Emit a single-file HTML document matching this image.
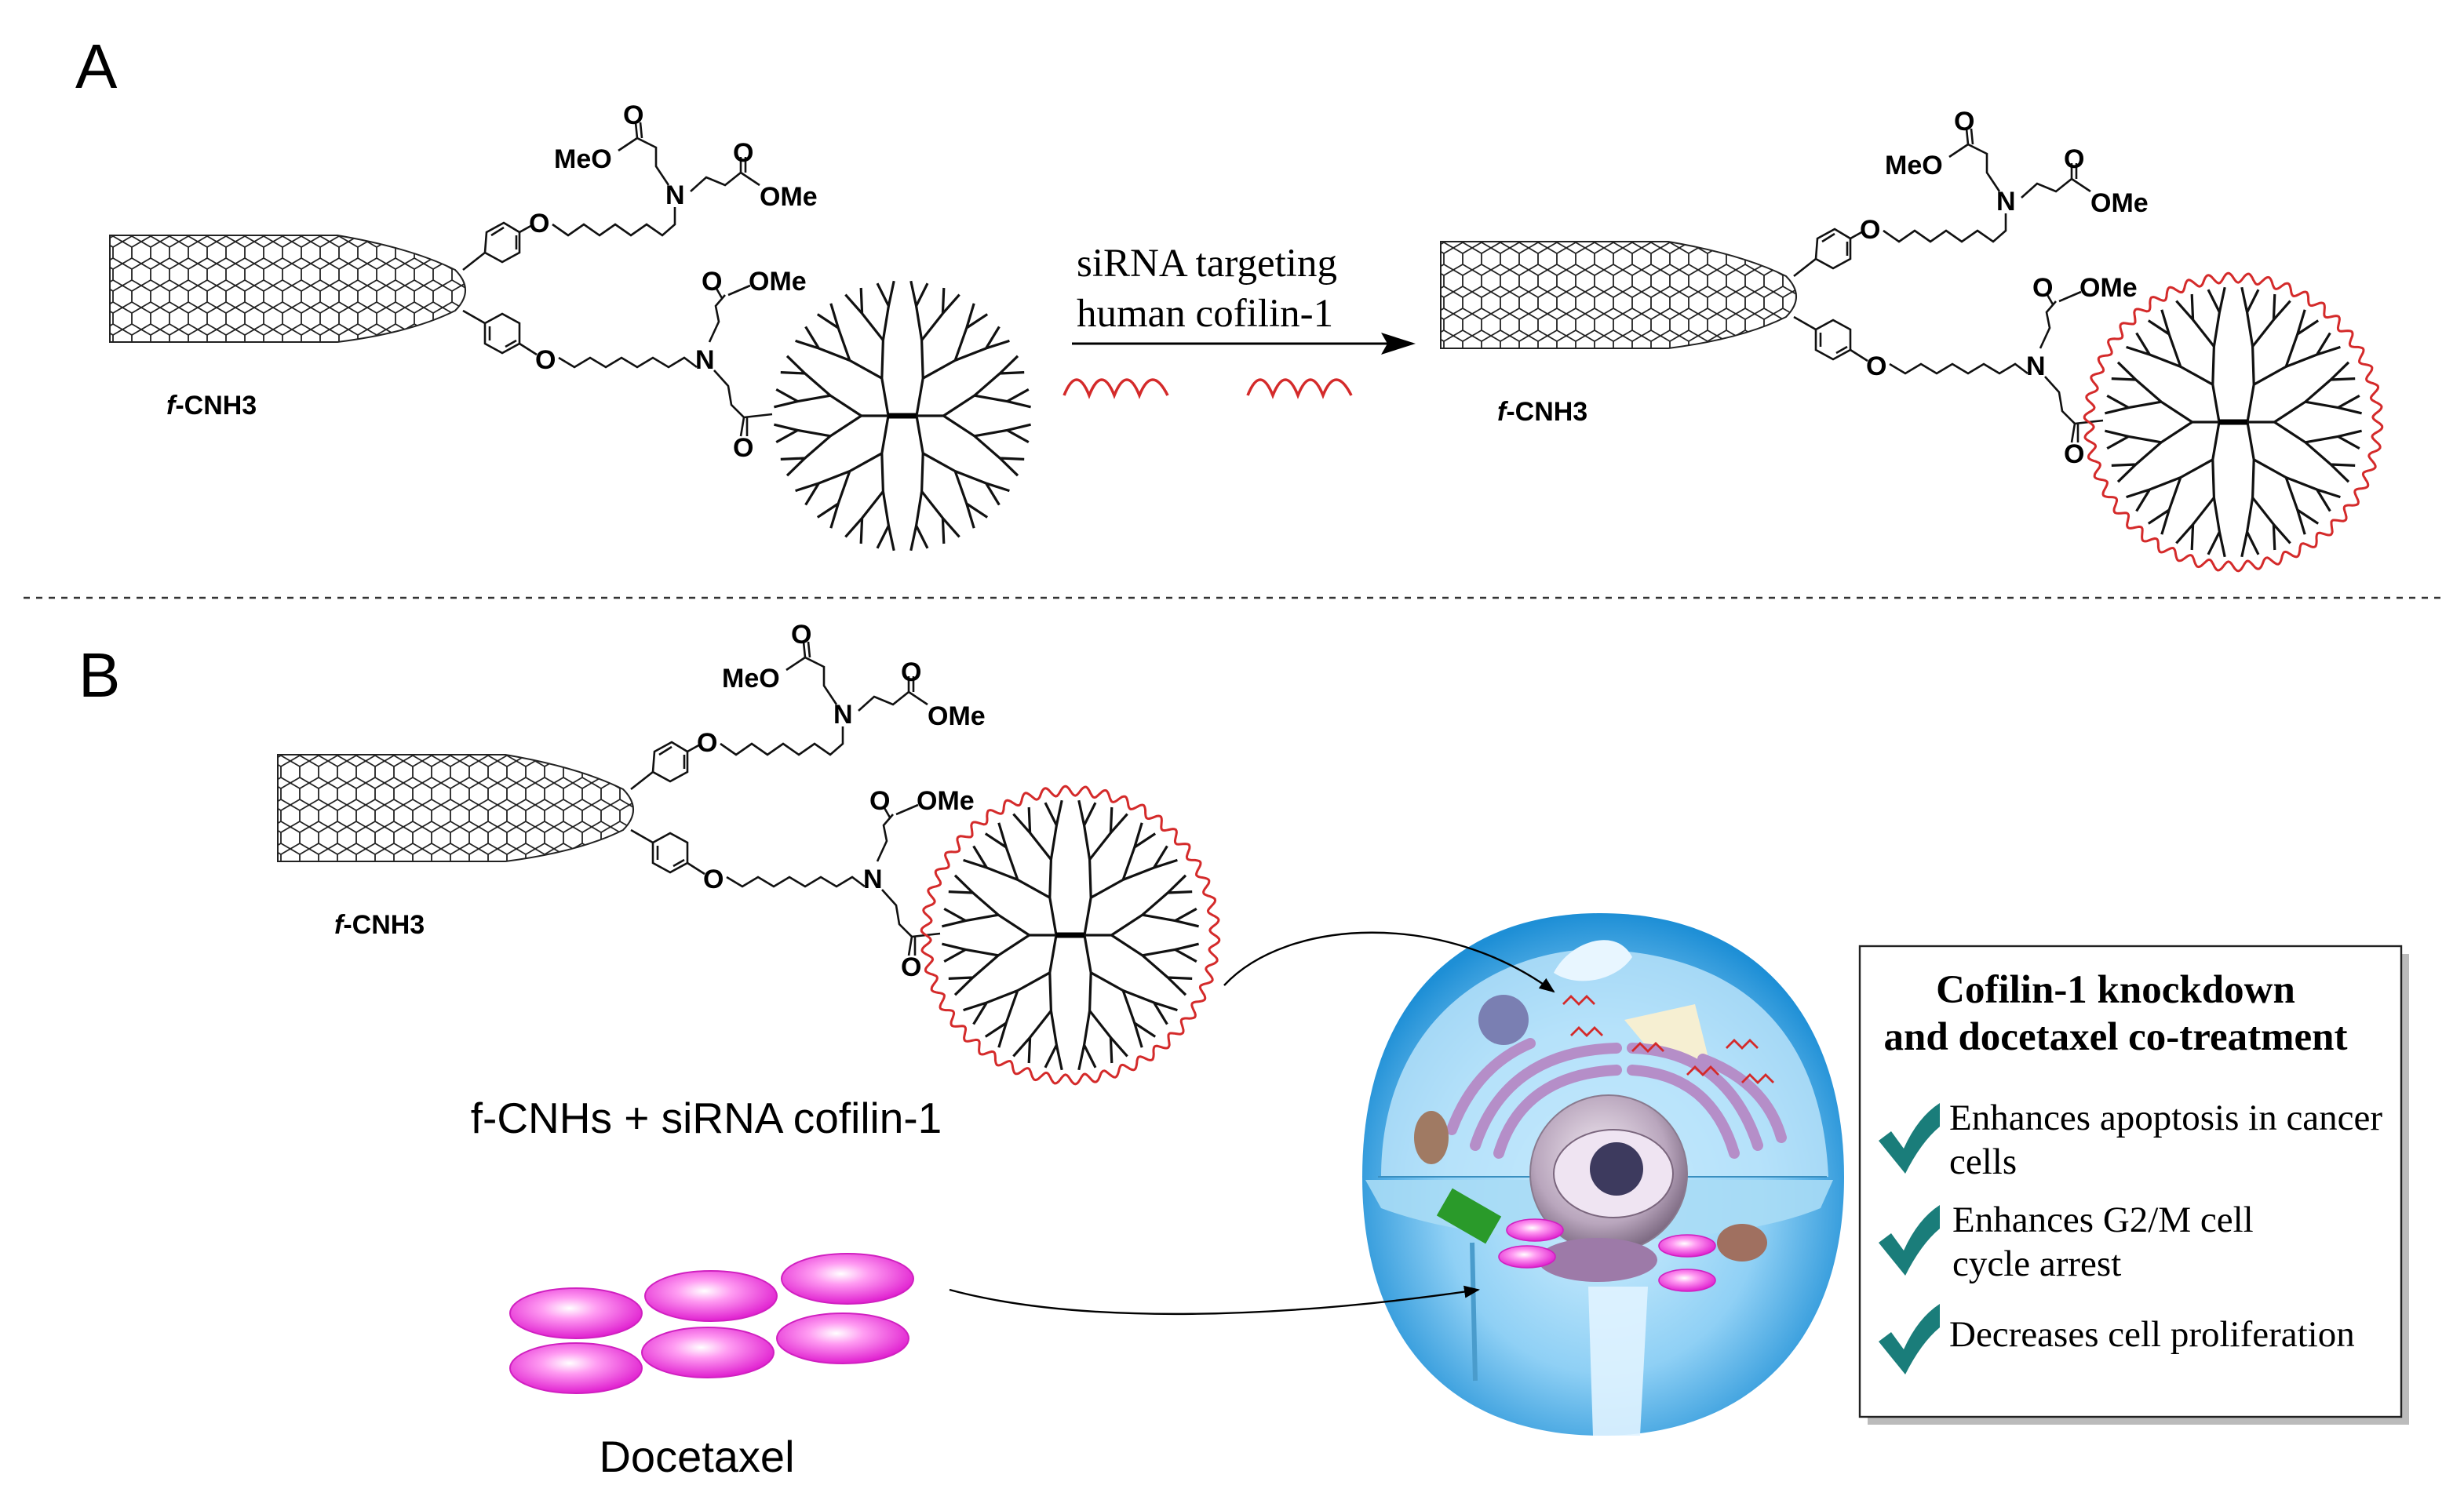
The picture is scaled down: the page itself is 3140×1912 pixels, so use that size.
<!DOCTYPE html>
<html><head><meta charset="utf-8"><style>
html,body{margin:0;padding:0;background:#fff;}
svg{display:block;}
.s{font-family:"Liberation Sans",sans-serif;}
.r{font-family:"Liberation Serif",serif;}
</style></head><body>
<svg id="sv" xmlns="http://www.w3.org/2000/svg" width="3140" height="1912" viewBox="0 0 1570 956">
<defs>
<pattern id="hex" width="12" height="14" patternUnits="userSpaceOnUse">
<path d="M0,3.5 L6,0 L12,3.5 L12,10.5 L6,14 L0,10.5 Z M6,0 L6,-3 M6,14 L6,17" fill="none" stroke="#222" stroke-width="0.9"/>
</pattern>
<radialGradient id="pink" cx="45%" cy="40%" r="60%"><stop offset="0" stop-color="#fff"/><stop offset="0.35" stop-color="#ff9cf2"/><stop offset="1" stop-color="#e020d0"/></radialGradient>
<radialGradient id="cellg" cx="50%" cy="55%" r="55%"><stop offset="0" stop-color="#d8f2ff"/><stop offset="0.6" stop-color="#8fd0f5"/><stop offset="1" stop-color="#1e8fd6"/></radialGradient>
<radialGradient id="nuc" cx="45%" cy="40%" r="60%"><stop offset="0" stop-color="#f2eaf2"/><stop offset="0.7" stop-color="#b9a6bd"/><stop offset="1" stop-color="#7e6b83"/></radialGradient>
<marker id="ah" markerWidth="10" markerHeight="8" refX="9" refY="4" orient="auto" markerUnits="userSpaceOnUse"><path d="M0,0 L10,4 L0,8 Z" fill="#000"/></marker>
<marker id="ah2" markerWidth="22" markerHeight="14" refX="20" refY="7" orient="auto" markerUnits="userSpaceOnUse"><path d="M0,0 L22,7 L0,14 L4,7 Z" fill="#000"/></marker>
<g id="mol">
 <path d="M70,150 L215,150 Q262,158 290,172 Q303,185 290,198 Q262,212 215,218 L70,218 Z" fill="url(#hex)" stroke="#222" stroke-width="1"/>
 <g fill="none" stroke="#111" stroke-width="1.3">
  <path d="M295,172 L309,161"/>
  <path d="M309,161 L310,148 L321,142 L331,148 L331,161 L320,167 Z"/><path d="M313,150 L321,145 M329,150 L329,159"/>
  <path d="M331,148 L340,143"/>
  <path d="M352,143 L362,150 L372,143 L382,150 L392,143 L402,150 L412,143 L422,150 L430,143 L430,132"/>
  <path d="M426,118 L418,106 L418,94 L406,88 L405,78 M409,88 L408,78 M406,88 L394,96"/>
  <path d="M440,122 L450,113 L462,118 L472,110 L472,100 M475,110 L475,100 M472,110 L484,118"/>
  <path d="M295,198 L309,206"/>
  <path d="M309,206 L309,219 L320,225 L331,219 L331,206 L320,200 Z"/><path d="M312,208 L312,217 M322,221 L329,217"/>
  <path d="M331,219 L342,226"/>
  <path d="M356,228 L366,234 L376,228 L386,234 L396,228 L406,234 L416,228 L426,234 L436,228 L444,234"/>
  <path d="M452,218 L458,205 L456,195 L462,188 M460,190 L456,183 M464,188 L478,182"/>
  <path d="M455,236 L464,246 L466,258 L474,266 L472,278 M476,266 L476,278 M474,266 L492,264"/>
 </g>
 <g class="s" font-weight="bold" font-size="17" fill="#000">
  <text x="337" y="148">O</text>
  <text x="424" y="130">N</text>
  <text x="397" y="79">O</text>
  <text x="353" y="107">MeO</text>
  <text x="467" y="103">O</text>
  <text x="484" y="131">OMe</text>
  <text x="341" y="235">O</text>
  <text x="443" y="235">N</text>
  <text x="447" y="185">O</text>
  <text x="477" y="185">OMe</text>
  <text x="467" y="291">O</text>
  <text x="106" y="264" font-size="17"><tspan font-style="italic">f</tspan>-CNH3</text>
 </g>
 <g id="dend" fill="none" stroke="#111" stroke-width="1.6"></g>
 <path d="M566,265 L584,265" stroke="#000" stroke-width="3.5"/>
</g>
</defs>

<text x="48" y="56" class="s" font-size="40">A</text>
<text x="50" y="444" class="s" font-size="40">B</text>

<use href="#mol"/>
<use href="#mol" transform="translate(848,4)"/>
<use href="#mol" transform="translate(107,331)"/>
<path id="w1" fill="none" stroke="#d42a2a" stroke-width="1.5" transform="translate(1423,269)"/>
<path id="w2" fill="none" stroke="#d42a2a" stroke-width="1.5" transform="translate(682,596)"/>

<text x="686" y="176" class="r" font-size="25.5">siRNA targeting</text>
<text x="686" y="208" class="r" font-size="25.5">human cofilin-1</text>
<line x1="683" y1="219" x2="900" y2="219" stroke="#000" stroke-width="1.5" marker-end="url(#ah2)"/>
<path d="M678,252 Q686,232 694,252 Q702,232 710,252 Q718,232 726,252 Q734,232 744,252" fill="none" stroke="#d42a2a" stroke-width="1.8"/>
<path d="M795,252 Q803,232 811,252 Q819,232 827,252 Q835,232 843,252 Q851,232 861,252" fill="none" stroke="#d42a2a" stroke-width="1.8"/>

<line x1="15" y1="381" x2="1555" y2="381" stroke="#333" stroke-width="1.2" stroke-dasharray="4,4"/>

<text x="450" y="722" class="s" font-size="27.5" text-anchor="middle">f-CNHs + siRNA cofilin-1</text>
<text x="444" y="938" class="s" font-size="28" text-anchor="middle">Docetaxel</text>
<g stroke="#d020c0" stroke-width="1">
<ellipse cx="367" cy="837" rx="42" ry="16" fill="url(#pink)"/>
<ellipse cx="453" cy="826" rx="42" ry="16" fill="url(#pink)"/>
<ellipse cx="540" cy="815" rx="42" ry="16" fill="url(#pink)"/>
<ellipse cx="367" cy="872" rx="42" ry="16" fill="url(#pink)"/>
<ellipse cx="451" cy="862" rx="42" ry="16" fill="url(#pink)"/>
<ellipse cx="537" cy="853" rx="42" ry="16" fill="url(#pink)"/>
</g>

<!-- cell -->
<g>
<path d="M1020,582 C1120,582 1175,650 1175,750 C1175,860 1110,915 1020,915 C930,915 868,860 868,750 C868,650 920,582 1020,582 Z" fill="url(#cellg)"/>
<path d="M880,750 C880,660 940,610 1010,605 C1090,605 1160,640 1165,750 Z" fill="#bfe6fb" opacity="0.8"/>
<path d="M870,752 L1168,752 L1160,770 C1100,795 960,800 880,770 Z" fill="#a9dcf5" opacity="0.9"/>
<path d="M878,750 L1164,750" stroke="#3a8fc0" stroke-width="1"/>
<path d="M990,620 C1000,600 1030,590 1040,610 C1030,625 1005,630 990,620 Z" fill="#e8f6ff"/>
<path d="M1012,820 L1050,820 L1045,915 L1015,915 Z" fill="#e0f3ff" opacity="0.9"/>
<path d="M1035,650 L1080,640 L1090,680 L1050,668 Z" fill="#f6efd2"/>
<circle cx="958" cy="650" r="16" fill="#7a7fb2"/>
<g fill="none" stroke="#b58ec8" stroke-width="7" stroke-linecap="round">
<path d="M940,730 Q960,670 1030,668"/><path d="M955,735 Q970,685 1030,682"/>
<path d="M1120,730 Q1100,670 1040,668"/><path d="M1105,735 Q1090,685 1040,682"/>
<path d="M925,720 Q940,680 975,665"/><path d="M1135,725 Q1125,690 1085,675"/>
</g>
<circle cx="1025" cy="748" r="50" fill="url(#nuc)" stroke="#8a7a8e" stroke-width="1"/>
<ellipse cx="1028" cy="748" rx="38" ry="28" fill="#efe4f2" stroke="#7a667d"/>
<circle cx="1030" cy="745" r="17" fill="#3d3a5e"/>
<ellipse cx="912" cy="725" rx="11" ry="17" fill="#a07a63"/>
<ellipse cx="1110" cy="792" rx="16" ry="12" fill="#a07060"/>
<rect x="918" y="765" width="36" height="20" fill="#2a9a2a" transform="rotate(30 936 775)"/>
<ellipse cx="1018" cy="803" rx="38" ry="14" fill="#9d7aa8"/>
<g stroke="#d020c0" stroke-width="0.8" fill="url(#pink)">
<ellipse cx="978" cy="784" rx="18" ry="7"/><ellipse cx="973" cy="801" rx="18" ry="7"/>
<ellipse cx="1075" cy="794" rx="18" ry="7"/><ellipse cx="1075" cy="816" rx="18" ry="7"/>
</g>
<path d="M938,792 L940,880" stroke="#4a9ccc" stroke-width="3"/>
<g fill="none" stroke="#d42a2a" stroke-width="1.4">
<path d="M996,640 l5,-5 l5,5 l5,-5 l5,5 M1001,660 l5,-5 l5,5 l5,-5 l5,5 M1040,670 l5,-5 l5,5 l5,-5 l5,5 M1075,685 l5,-5 l5,5 l5,-5 l5,5 M1100,668 l5,-5 l5,5 l5,-5 l5,5 M1110,690 l5,-5 l5,5 l5,-5 l5,5"/>
</g>
</g>
<path d="M780,628 C820,585 920,580 990,632" fill="none" stroke="#000" stroke-width="1.2" marker-end="url(#ah)"/>
<path d="M605,822 C690,845 820,840 942,822" fill="none" stroke="#000" stroke-width="1.2" marker-end="url(#ah)"/>

<!-- box -->
<rect x="1190" y="608" width="345" height="300" fill="#bbb"/>
<rect x="1185" y="603" width="345" height="300" fill="#fff" stroke="#222" stroke-width="1.2"/>
<text x="1348" y="639" class="r" font-size="25.5" font-weight="bold" text-anchor="middle">Cofilin-1 knockdown</text>
<text x="1348" y="669" class="r" font-size="25.5" font-weight="bold" text-anchor="middle">and docetaxel co-treatment</text>
<g fill="#1a7d7a">
<path d="M1197,727 L1205,721 L1213,732 Q1222,712 1236,703 L1236,718 Q1224,728 1214,748 Z"/>
<path d="M1197,792 L1205,786 L1213,797 Q1222,777 1236,768 L1236,783 Q1224,793 1214,813 Z"/>
<path d="M1197,855 L1205,849 L1213,860 Q1222,840 1236,831 L1236,846 Q1224,856 1214,876 Z"/>
</g>
<g class="r" font-size="23.5">
<text x="1242" y="720">Enhances apoptosis in cancer</text>
<text x="1242" y="748">cells</text>
<text x="1244" y="785">Enhances G2/M cell</text>
<text x="1244" y="813">cycle arrest</text>
<text x="1242" y="858">Decreases cell proliferation</text>
</g>
</svg>
<script>
(function(){
var NS="http://www.w3.org/2000/svg",g=document.getElementById("dend");
var cx=575,cy=265,R=82,d="";
function br(x,y,a0,a1,depth){
 var n=depth==0?3:2;
 var radii=[0.32,0.58,0.82,1.0];
 if(depth>=4)return;
 for(var i=0;i<n;i++){
  var s0=a0+(a1-a0)*i/n,s1=a0+(a1-a0)*(i+1)/n,am=(s0+s1)/2;
  var rr=R*radii[depth];
  var nx=cx+rr*Math.cos(am),ny=cy-rr*Math.sin(am)*1.05;
  d+="M"+x.toFixed(1)+","+y.toFixed(1)+"L"+nx.toFixed(1)+","+ny.toFixed(1);
  br(nx,ny,s0,s1,depth+1);
 }
}
br(cx-9,cy,Math.PI/2,3*Math.PI/2,0);
br(cx+9,cy,-Math.PI/2,Math.PI/2,0);
var p=document.createElementNS(NS,"path");p.setAttribute("d",d);g.appendChild(p);
var w="";
for(var i=0;i<=720;i++){var t=i/720*2*Math.PI;var r=R+10+3*Math.sin(t*46);
 w+=(i?"L":"M")+(r*Math.cos(t)).toFixed(1)+","+(r*Math.sin(t)).toFixed(1);}
document.getElementById("w1").setAttribute("d",w+"Z");
document.getElementById("w2").setAttribute("d",w+"Z");
})();
</script>
</body></html>
